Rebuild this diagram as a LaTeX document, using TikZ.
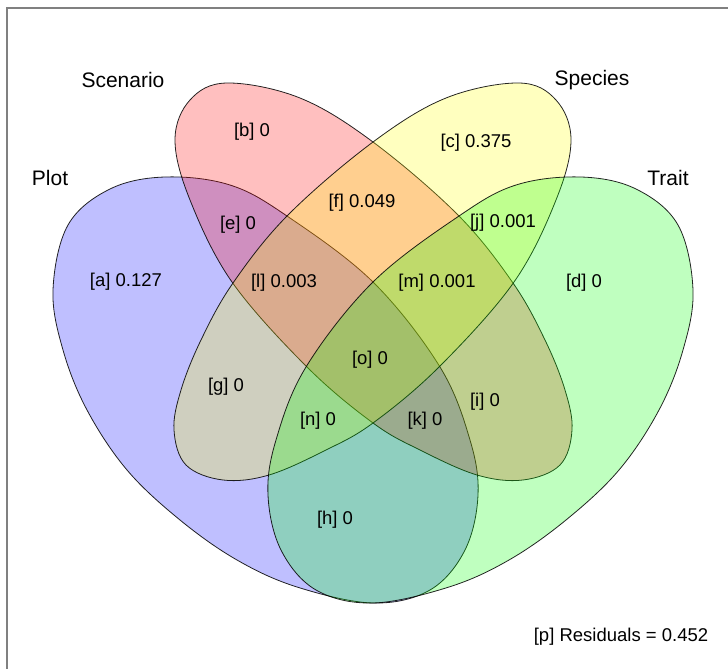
\documentclass[tikz,border=0pt]{standalone}
\usepackage{fontspec}
\setmainfont{Liberation Sans}
\definecolor{plotblue}{RGB}{0,0,255}
\definecolor{scenred}{RGB}{255,0,0}
\definecolor{specyellow}{RGB}{255,255,0}
\definecolor{traitgreen}{RGB}{0,255,0}
\definecolor{framegray}{HTML}{808080}
\tikzset{
  vennset/.style={draw=black,line width=0.8pt,fill opacity=0.25,draw opacity=0.85},
  setlabel/.style={font=\fontsize{21}{25}\selectfont,inner sep=0pt},
  partlabel/.style={font=\fontsize{18.5}{22}\selectfont,inner sep=0pt}
}

\begin{document}
\begin{tikzpicture}[x=1pt,y=-1pt]
\useasboundingbox (0,0) rectangle (728,669);
\draw[framegray,line width=1.6pt] (7,669) -- (7,8) -- (728,8);
% the four sets, in drawing order
\filldraw[vennset,fill=plotblue] plot[smooth cycle,tension=0.6] coordinates {
  (165,177) (230,185) (287,216) (373,282) (440,367) (470,440) (478,495) (465,550)
  (430,590) (373,603) (297,587) (237,560) (180,520) (127,470) (87,410) (63,350) (53,290) (68,225) (110,189)};
\filldraw[vennset,fill=scenred] plot[smooth cycle,tension=0.6] coordinates {
  (227,83) (300,98) (373,142) (458,215) (513,283) (545,340) (565,390) (572,430)
  (560,465) (523,480) (477,475) (420,450) (373,423) (307,367) (232,282) (190,200) (175,140) (190,100)};
\filldraw[vennset,fill=specyellow] plot[smooth cycle,tension=0.6] coordinates {
  (519,83) (446,98) (373,142) (288,215) (233,283) (201,340) (181,390) (174,430)
  (186,465) (223,480) (269,475) (326,450) (373,423) (439,367) (514,282) (556,200) (571,140) (556,100)};
\filldraw[vennset,fill=traitgreen] plot[smooth cycle,tension=0.6] coordinates {
  (581,177) (516,185) (459,216) (373,282) (306,367) (276,440) (268,495) (281,550)
  (316,590) (373,603) (449,587) (509,560) (566,520) (619,470) (659,410) (683,350) (693,290) (678,225) (636,189)};
% set names
\node[setlabel] (plot) at (50,178) {Plot};
\node[setlabel] (scen) at (123,80) {Scenario};
\node[setlabel] (spec) at (592,80) {Species};
\node[setlabel] (trait) at (668,178) {Trait};
% fractions
\node[partlabel] (a) at (126,282) {[a] 0.127};
\node[partlabel] (b) at (252,132) {[b] 0};
\node[partlabel] (c) at (476,143) {[c] 0.375};
\node[partlabel] (d) at (584,283) {[d] 0};
\node[partlabel] (e) at (238,225) {[e] 0};
\node[partlabel] (f) at (362,203) {[f] 0.049};
\node[partlabel] (g) at (226,387) {[g] 0};
\node[partlabel] (h) at (335,520) {[h] 0};
\node[partlabel] (i) at (485,402) {[i] 0};
\node[partlabel] (j) at (503,223) {[j] 0.001};
\node[partlabel] (k) at (425,421) {[k] 0};
\node[partlabel] (l) at (284,283) {[l] 0.003};
\node[partlabel] (m) at (437,283) {[m] 0.001};
\node[partlabel] (n) at (318,421) {[n] 0};
\node[partlabel] (o) at (370,360) {[o] 0};
\node[partlabel] (p) at (621,637) {[p] Residuals = 0.452};
\end{tikzpicture}
\end{document}
